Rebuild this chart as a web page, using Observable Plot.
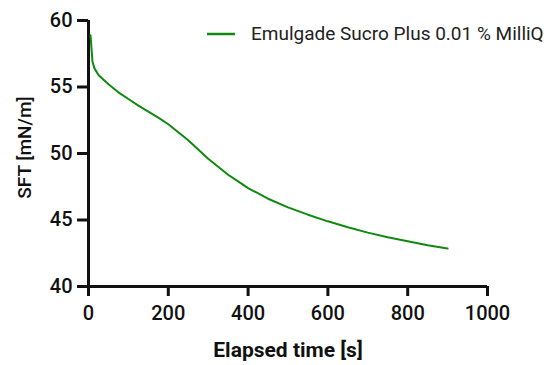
<!DOCTYPE html>
<html>
<head>
<meta charset="utf-8">
<script src="https://cdn.jsdelivr.net/npm/d3@7"></script>
<script src="https://cdn.jsdelivr.net/npm/@observablehq/plot@0.6"></script>
<style>
  html, body { margin: 0; padding: 0; background: #fff; }
  #wrap { position: relative; width: 550px; height: 365px; }
  #legend { position: absolute; left: 207px; top: 22px; display: flex; align-items: center;
    font-family: Roboto, sans-serif; font-size: 19px; color: #222; white-space: nowrap; }
  #legend svg { margin-right: 16px; }
</style>
</head>
<body>
<div id="wrap">
  <div id="chart"></div>
  <div id="legend"></div>
</div>
<script>
const seriesName = "Emulgade Sucro Plus 0.01 % MilliQ";
const seriesColor = "#0f8a0f";
const times = [5, 10, 15, 25, 50, 75, 100, 125, 150, 175, 200, 225, 250, 275, 300, 325, 350, 375, 400, 450, 500, 550, 600, 650, 700, 750, 800, 850, 900];
const sft = [58.9, 56.9, 56.4, 55.9, 55.2, 54.6, 54.1, 53.6, 53.15, 52.7, 52.2, 51.6, 51.0, 50.3, 49.6, 49.0, 48.4, 47.9, 47.4, 46.6, 45.95, 45.4, 44.9, 44.45, 44.05, 43.7, 43.4, 43.1, 42.85];
const xTicks = [0, 200, 400, 600, 800, 1000];
const yTicks = [40, 45, 50, 55, 60];
const xLabel = "Elapsed time [s]";
const yLabel = "SFT [mN/m]";

const data = times.map((t, i) => ({t, v: sft[i]}));
const font = "Roboto, sans-serif";

const chart = Plot.plot({
  width: 550,
  height: 365,
  marginLeft: 88,
  marginRight: 63,
  marginTop: 20,
  marginBottom: 79,
  style: {fontFamily: font, fontSize: "20px", background: "#fff"},
  x: {domain: [0, 1000]},
  y: {domain: [40, 60]},
  marks: [
    Plot.axisX({ticks: xTicks, tickSize: 0, tickPadding: 19, tickFormat: d => String(d), label: null, fontSize: 20, fontWeight: 500, fill: "#111"}),
    Plot.axisY({ticks: yTicks, tickSize: 0, tickPadding: 16, tickFormat: d => String(d), label: null, fontSize: 20, fontWeight: 500, fill: "#111"}),
    Plot.axisX({ticks: xTicks, tickSize: 10, text: null, label: null, stroke: "#111", strokeWidth: 3}),
    Plot.axisY({ticks: yTicks, tickSize: 11, text: null, label: null, stroke: "#111", strokeWidth: 3}),
    Plot.ruleX([0], {stroke: "#111", strokeWidth: 3}),
    Plot.ruleY([40], {stroke: "#111", strokeWidth: 3}),
    Plot.line(data, {x: "t", y: "v", stroke: seriesColor, strokeWidth: 2}),
    Plot.text([xLabel], {text: d => d, frameAnchor: "bottom", dy: 64, lineAnchor: "middle", textAnchor: "middle", fontSize: 21, fontWeight: "bold", fill: "#111", style: "letter-spacing:1px"}),
    Plot.text([yLabel], {text: d => d, frameAnchor: "left", dx: -64, dy: -6, rotate: -90, lineAnchor: "middle", textAnchor: "middle", fontSize: 19, fontWeight: 500, fill: "#111"})
  ]
});
document.getElementById("chart").appendChild(chart);

const lg = document.getElementById("legend");
lg.innerHTML = `<svg width="28" height="4"><line x1="0" y1="2" x2="28" y2="2" stroke="${seriesColor}" stroke-width="2.5"/></svg><span>${seriesName}</span>`;
</script>
</body>
</html>
